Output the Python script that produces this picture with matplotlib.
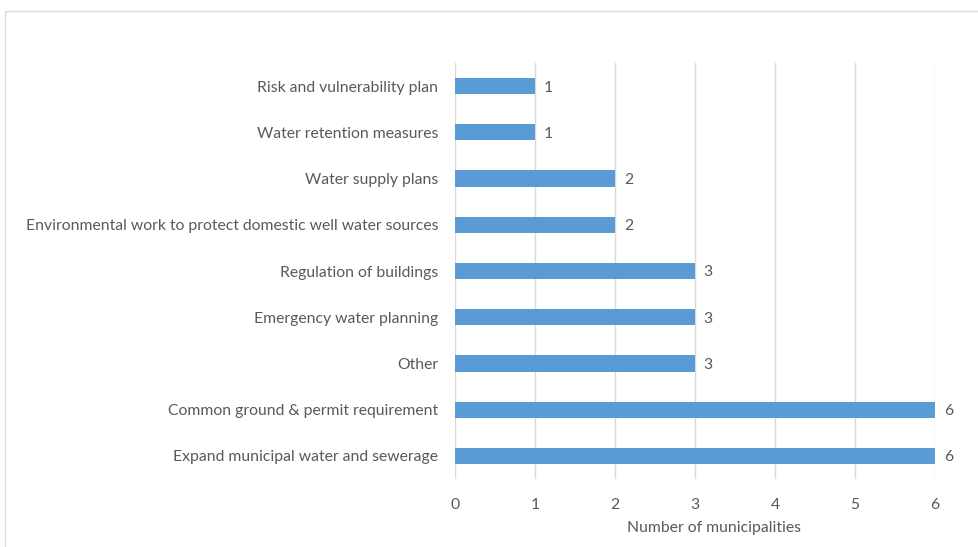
import matplotlib.pyplot as plt
from matplotlib.patches import Rectangle

categories = [
    "Expand municipal water and sewerage",
    "Common ground & permit requirement",
    "Other",
    "Emergency water planning",
    "Regulation of buildings",
    "Environmental work to protect domestic well water sources",
    "Water supply plans",
    "Water retention measures",
    "Risk and vulnerability plan",
]
counts = [6, 6, 3, 3, 3, 2, 2, 1, 1]
x_ticks = [0, 1, 2, 3, 4, 5, 6]

plt.rcParams['font.family'] = ['Lato', 'DejaVu Sans']
text_color = '#595959'
grid_color = '#d9d9d9'
bar_color = '#5b9bd5'
fs = 11.35

W, H = 979, 547
fig = plt.figure(figsize=(W / 100, H / 100), dpi=100)
ax = fig.add_axes([455 / W, 1 - 479 / H, 480 / W, 416 / H])

# chart-area border, running off the right and bottom edges
fig.patches.append(Rectangle((5.5 / W, -0.05), 1.2, 1 - 11 / H + 0.05,
                             transform=fig.transFigure, fill=False,
                             edgecolor=grid_color, lw=1))

y = list(range(len(categories)))
ax.barh(y, counts, height=0.35, color=bar_color, zorder=3)
for yi, c in zip(y, counts):
    ax.text(c + 0.11, yi, str(c), va='center_baseline', ha='left',
            fontsize=fs, color=text_color)

ax.set_xlim(0, 6)
ax.set_ylim(-0.5, len(categories) - 0.5)
ax.set_xticks(x_ticks)
ax.set_yticks(y)
ax.set_yticklabels(categories)
ax.tick_params(axis='both', length=0, labelsize=fs, labelcolor=text_color)
ax.tick_params(axis='x', pad=14)
ax.tick_params(axis='y', pad=12)
ax.xaxis.grid(True, color=grid_color, lw=1, zorder=0)
for s in ax.spines.values():
    s.set_visible(False)
ax.set_xlabel("Number of municipalities", fontsize=fs, color=text_color)
ax.xaxis.set_label_coords(0.54, -0.1)

fig.savefig("out.png", dpi=100)
